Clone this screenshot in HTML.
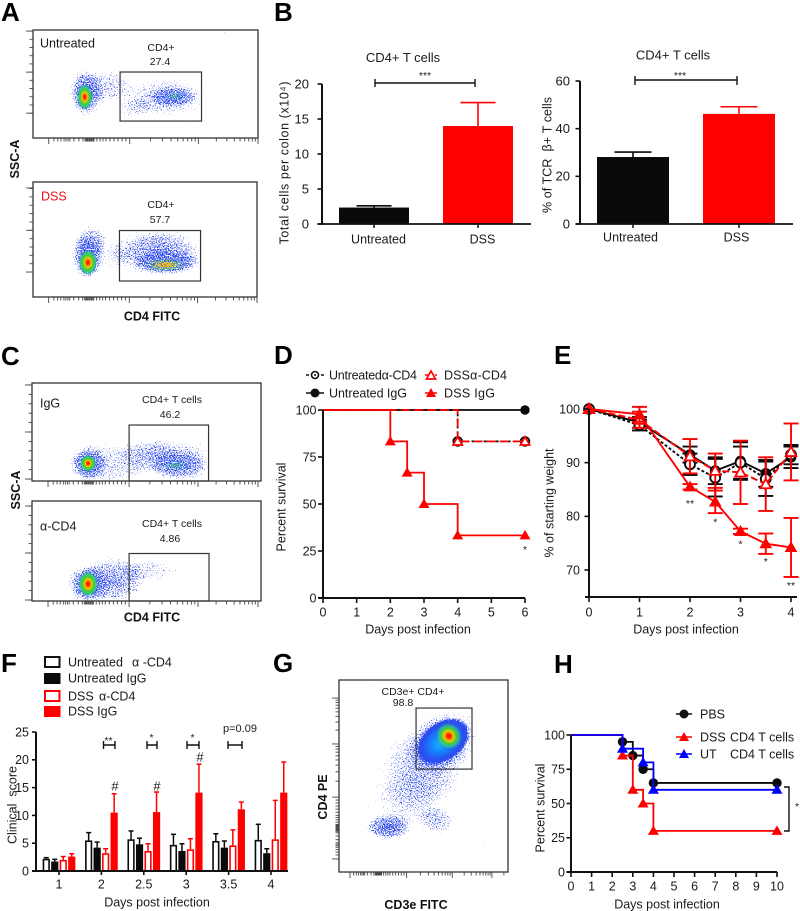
<!DOCTYPE html>
<html lang="en">
<head>
<meta charset="utf-8">
<title>CD4 T cell figure</title>
<style>
html,body{margin:0;padding:0;background:#fff;width:800px;height:911px;overflow:hidden}
svg{display:block;filter:blur(0.3px)}
text{font-family:"Liberation Sans",sans-serif;fill:#1a1a1a}
.letter{font-size:26px;font-weight:bold;fill:#000}
.bold{font-weight:bold;font-size:12.5px;fill:#111}
.t{font-size:12.5px}
.s{font-size:10.5px}
</style>
</head>
<body>
<svg id="figure" xmlns="http://www.w3.org/2000/svg" width="800" height="911" viewBox="0 0 800 911">
<defs>
<filter id="speckle" filterUnits="userSpaceOnUse" x="0" y="0" width="800" height="911" color-interpolation-filters="sRGB">
<feTurbulence type="fractalNoise" baseFrequency="0.85" numOctaves="2" seed="7" result="n"/>
<feColorMatrix in="n" type="matrix" values="0 0 0 0 0  0 0 0 0 0  0 0 0 0 0  1 0 0 0 0" result="na"/>
<feComposite in="na" in2="SourceAlpha" operator="arithmetic" k1="0" k2="1" k3="0.45" k4="-0.85" result="mix"/>
<feComponentTransfer in="mix" result="dots"><feFuncA type="linear" slope="14" intercept="0"/></feComponentTransfer>
<feFlood flood-color="#2f4bec" result="c"/>
<feComposite in="c" in2="dots" operator="in"/>
</filter>
<filter id="grain" filterUnits="userSpaceOnUse" x="0" y="0" width="800" height="911" color-interpolation-filters="sRGB">
<feTurbulence type="fractalNoise" baseFrequency="0.8" numOctaves="2" seed="11" result="n"/>
<feColorMatrix in="n" type="matrix" values="0 0 0 0 0  0 0 0 0 0  0 0 0 0 0  1 0 0 0 0" result="na"/>
<feComposite in="na" in2="SourceAlpha" operator="arithmetic" k1="0" k2="1" k3="1" k4="-0.8" result="m"/>
<feComponentTransfer in="m" result="mask"><feFuncA type="linear" slope="10" intercept="0"/></feComponentTransfer>
<feComponentTransfer in="SourceGraphic" result="boosted"><feFuncA type="linear" slope="2.5" intercept="0"/></feComponentTransfer>
<feComposite in="boosted" in2="mask" operator="in"/>
</filter>
<radialGradient id="density"><stop offset="0" stop-color="#000" stop-opacity="1"/><stop offset="0.6" stop-color="#000" stop-opacity="0.75"/><stop offset="1" stop-color="#000" stop-opacity="0"/></radialGradient>
<radialGradient id="hot"><stop offset="0" stop-color="#f00"/><stop offset="0.18" stop-color="#f40"/><stop offset="0.32" stop-color="#ec0"/><stop offset="0.52" stop-color="#4c3"/><stop offset="0.72" stop-color="#3c8" stop-opacity="0.6"/><stop offset="1" stop-color="#22e" stop-opacity="0"/></radialGradient>
<radialGradient id="warm"><stop offset="0" stop-color="#f90" stop-opacity="0.5"/><stop offset="0.3" stop-color="#dd2" stop-opacity="0.38"/><stop offset="0.6" stop-color="#4c4" stop-opacity="0.3"/><stop offset="1" stop-color="#2a8" stop-opacity="0"/></radialGradient>
<radialGradient id="weak"><stop offset="0" stop-color="#5c5" stop-opacity="0.4"/><stop offset="0.55" stop-color="#2bc" stop-opacity="0.22"/><stop offset="1" stop-color="#22e" stop-opacity="0"/></radialGradient>
<radialGradient id="body"><stop offset="0" stop-color="#2cf"/><stop offset="0.4" stop-color="#18f"/><stop offset="0.72" stop-color="#2a50f0"/><stop offset="0.88" stop-color="#2a4cee" stop-opacity="0.4"/><stop offset="1" stop-color="#23e" stop-opacity="0"/></radialGradient>
</defs>

<rect width="800" height="911" fill="#fff"/>

<text class="letter" x="1" y="21">A</text>
<text class="letter" x="274" y="21">B</text>
<text class="letter" x="1" y="365">C</text>
<text class="letter" x="274" y="364">D</text>
<text class="letter" x="554" y="364">E</text>
<text class="letter" x="1" y="672">F</text>
<text class="letter" x="273" y="672">G</text>
<text class="letter" x="554" y="673">H</text>

<g id="flow-layer"></g>

<!-- Panel A text -->
<text class="t" x="40" y="47.5">Untreated</text>
<text class="s" x="161" y="51" text-anchor="middle">CD4+</text>
<text class="s" x="160" y="65" text-anchor="middle">27.4</text>
<text class="t" x="41" y="200.5" style="fill:#f01010">DSS</text>
<text class="s" x="161" y="208" text-anchor="middle">CD4+</text>
<text class="s" x="160" y="223" text-anchor="middle">57.7</text>
<text class="bold" transform="translate(19,159) rotate(-90)" text-anchor="middle">SSC-A</text>
<text class="bold" x="152" y="320.5" text-anchor="middle">CD4 FITC</text>

<!-- Panel B text -->
<text class="t" x="403" y="62" text-anchor="middle" style="font-size:13px">CD4+ T cells</text>
<text class="t" x="673" y="59.5" text-anchor="middle" style="font-size:13px">CD4+ T cells</text>
<text class="t" transform="translate(288.5,163) rotate(-90)" text-anchor="middle" textLength="163">Total cells per colon (x10⁴)</text>
<text class="t" transform="translate(551.5,155) rotate(-90)" text-anchor="middle" textLength="116">% of TCR&#160; β+ T cells</text>
<g stroke="#111" stroke-width="1.4" fill="none"><path d="M375 79V87M375 83H475M475 79V87"/></g>
<text class="s" x="425" y="79" text-anchor="middle">***</text>
<g stroke="#111" stroke-width="1.4" fill="none"><path d="M635 76V85M635 80H737M737 76V85"/></g>
<text class="s" x="680" y="79" text-anchor="middle">***</text>

<!-- Panel C text -->
<text class="t" x="40" y="407.5">IgG</text>
<text class="s" x="172" y="403" text-anchor="middle">CD4+ T cells</text>
<text class="s" x="170" y="418" text-anchor="middle">46.2</text>
<text class="t" x="40" y="530.5">α-CD4</text>
<text class="s" x="172" y="527" text-anchor="middle">CD4+ T cells</text>
<text class="s" x="170" y="542" text-anchor="middle">4.86</text>
<text class="bold" transform="translate(20,490) rotate(-90)" text-anchor="middle">SSC-A</text>
<text class="bold" x="152" y="621.5" text-anchor="middle">CD4 FITC</text>

<!-- Panel D text and legend -->
<g>
<g><line x1="306" y1="375" x2="324" y2="375" stroke="#111" stroke-width="1.5" stroke-dasharray="3 2"/><circle cx="315" cy="375" r="3.5" fill="#fff" stroke="#111" stroke-width="1.6"/><circle cx="315" cy="375" r="1" fill="#111"/><text class="t" x="329" y="379.3" textLength="88">Untreatedα-CD4</text></g>
<g><line x1="425" y1="375" x2="437" y2="375" stroke="#f00" stroke-width="1.5" stroke-dasharray="3 2"/><path d="M431 371L435.5 379H426.5Z" fill="#fff" stroke="#f00" stroke-width="1.7"/><text class="t" x="444" y="379.3" textLength="63">DSSα-CD4</text></g>
<g><line x1="306" y1="393" x2="324" y2="393" stroke="#111" stroke-width="1.5"/><circle cx="315" cy="393" r="4.5" fill="#111"/><text class="t" x="329" y="397.3" textLength="78">Untreated IgG</text></g>
<g><line x1="425" y1="393" x2="437" y2="393" stroke="#f00" stroke-width="1.5"/><path d="M431 388L436 397H426Z" fill="#f00"/><text class="t" x="444" y="397.3" textLength="51">DSS IgG</text></g>
</g>
<text class="t" x="418" y="633.5" text-anchor="middle">Days post infection</text>
<text class="t" transform="translate(285.5,507) rotate(-90)" text-anchor="middle">Percent survival</text>
<text class="s" x="525" y="553" text-anchor="middle">*</text>

<!-- Panel E text -->
<text class="t" x="686" y="633.5" text-anchor="middle">Days post infection</text>
<text class="t" transform="translate(553.5,503) rotate(-90)" text-anchor="middle">% of starting weight</text>

<!-- Panel F text and legend -->
<g>
<g><rect x="45" y="657" width="14.5" height="10" fill="#fff" stroke="#111" stroke-width="2"/><text class="t" x="68" y="666.5">Untreated<tspan x="132">α -CD4</tspan></text></g>
<g><rect x="44" y="673" width="16.5" height="11" fill="#0a0a0a"/><text class="t" x="68" y="682.5">Untreated IgG</text></g>
<g><rect x="45" y="691" width="14.5" height="10" fill="#fff" stroke="#f00" stroke-width="2"/><text class="t" x="68" y="700.5">DSS<tspan x="99">α-CD4</tspan></text></g>
<g><rect x="44" y="706" width="16.5" height="11" fill="#f00"/><text class="t" x="68" y="715.5">DSS IgG</text></g>
</g>
<text class="t" x="157" y="906.5" text-anchor="middle">Days post infection</text>
<text class="t" transform="translate(16.5,805) rotate(-90)" text-anchor="middle" textLength="78">Clinical&#160; score</text>
<g stroke="#111" stroke-width="1.4" fill="none">
<path d="M103.500 741V749M103.500 745H115M115 741V749"/>
<path d="M147 741V749M147 745H157M157 741V749"/>
<path d="M187 741V749M187 745H199M199 741V749"/>
<path d="M228 741V749M228 745H242M242 741V749"/>
</g>
<text class="s" x="108.500" y="744" text-anchor="middle">**</text>
<text class="s" x="151.500" y="741" text-anchor="middle">*</text>
<text class="s" x="192.500" y="741" text-anchor="middle">*</text>
<text class="s" x="240" y="732" text-anchor="middle" style="font-size:11px">p=0.09</text>
<text class="t" x="115" y="790.500" text-anchor="middle" style="font-size:13px">#</text>
<text class="t" x="157" y="790.500" text-anchor="middle" style="font-size:13px">#</text>
<text class="t" x="200" y="761.500" text-anchor="middle" style="font-size:13px">#</text>

<!-- Panel G text -->
<text class="s" x="413" y="695" text-anchor="middle">CD3e+ CD4+</text>
<text class="s" x="403" y="706" text-anchor="middle">98.8</text>
<text class="bold" transform="translate(327,797) rotate(-90)" text-anchor="middle">CD4 PE</text>
<text class="bold" x="416" y="909" text-anchor="middle">CD3e FITC</text>

<!-- Panel H text and legend -->
<g>
<g><line x1="676" y1="714" x2="692" y2="714" stroke="#111" stroke-width="1.5"/><circle cx="684" cy="714" r="4.5" fill="#111"/><text class="t" x="700" y="718.500">PBS</text></g>
<g><line x1="676" y1="737" x2="692" y2="737" stroke="#f00" stroke-width="1.5"/><path d="M684 732L689 741H679Z" fill="#f00"/><text class="t" x="700" y="741.500">DSS<tspan x="730">CD4 T cells</tspan></text></g>
<g><line x1="676" y1="754" x2="692" y2="754" stroke="#00f" stroke-width="1.5"/><path d="M684 749L689 758H679Z" fill="#00f"/><text class="t" x="700" y="758.500">UT<tspan x="730">CD4 T cells</tspan></text></g>
</g>
<text class="t" x="667" y="908.500" text-anchor="middle">Days post infection</text>
<text class="t" transform="translate(544.5,808) rotate(-90)" text-anchor="middle">Percent survival</text>
<path d="M784 787H789V831H784" fill="none" stroke="#111" stroke-width="1.4"/>
<text class="s" x="797" y="810" text-anchor="middle">*</text>

<g id="charts"></g>
</svg>

<script>
/* ---------- Chart data ---------- */
const bCategories = ['Untreated', 'DSS'];
const bLeftValues = [2.35, 14];
const bLeftErrors = [0.25, 3.35];
const bLeftTicks = [0, 5, 10, 15, 20];
const bRightValues = [28.1, 46.2];
const bRightErrors = [2.1, 3];
const bRightTicks = [0, 20, 40, 60];

const dDayTicks = [0, 1, 2, 3, 4, 5, 6];
const dSurvivalTicks = [0, 25, 50, 75, 100];
const dUntreatedIgGDays = [0, 6];
const dUntreatedIgGSurvival = [100, 100];
const dUntreatedAntiDays = [0, 4, 6];
const dUntreatedAntiSurvival = [100, 83.3, 83.3];
const dDssAntiDays = [0, 4, 6];
const dDssAntiSurvival = [100, 83.3, 83.3];
const dDssIgGDays = [0, 2, 2.5, 3, 4, 6];
const dDssIgGSurvival = [100, 83.3, 66.7, 50, 33.3, 33.3];

const eDayTicks = [0, 1, 2, 3, 4];
const eWeightTicks = [70, 80, 90, 100];
const eDays = [0, 1, 2, 2.5, 3, 3.5, 4];
const eUntreatedIgG = [100, 97.5, 91.5, 88.5, 90.3, 88, 91];
const eUntreatedIgGError = [0, 1, 1.5, 2.5, 3.5, 2.5, 2];
const eUntreatedAnti = [100, 97, 89.7, 87.2, 90, 87, 91.5];
const eUntreatedAntiError = [0, 1, 2, 3.5, 3, 3.2, 1.8];
const eDssAnti = [100, 98, 91.2, 88.5, 88.2, 86, 92];
const eDssAntiError = [0, 1.5, 3.2, 3.2, 5.9, 5, 5.3];
const eDssIgG = [100, 99, 85.5, 82.7, 77.2, 74.9, 74.2];
const eDssIgGError = [0, 1.4, 0.5, 2.1, 0.5, 1.9, 5.5];
const eStarLabels = ['', '', '**', '*', '*', '*', '**'];
const eStarWeights = [0, 0, 82.5, 79, 74.9, 71.7, 67.2];

const fGroups = ['1', '2', '2.5', '3', '3.5', '4'];
const fTicks = [0, 5, 10, 15, 20, 25];
const fUntreatedAnti = [2.2, 5.5, 5.7, 4.7, 5.4, 5.6];
const fUntreatedAntiTop = [2.4, 6.9, 7.2, 6.6, 6.7, 8.4];
const fUntreatedIgG = [1.7, 4.2, 4.8, 3.6, 4.2, 3.2];
const fUntreatedIgGTop = [2.1, 5.2, 5.9, 4.9, 5.4, 4.0];
const fDssAnti = [2.0, 3.2, 3.6, 3.9, 4.6, 5.7];
const fDssAntiTop = [2.6, 4.0, 4.9, 5.8, 7.4, 12.7];
const fDssIgG = [2.6, 10.5, 10.6, 14.1, 11.1, 14.1];
const fDssIgGTop = [3.1, 13.9, 14.2, 19.2, 12.4, 19.6];

const hDayTicks = [0, 1, 2, 3, 4, 5, 6, 7, 8, 9, 10];
const hSurvivalTicks = [0, 25, 50, 75, 100];
const hPbsDays = [0, 2.5, 3, 3.5, 4, 10];
const hPbsSurvival = [100, 95, 85, 75, 65, 65];
const hDssDays = [0, 2.5, 3, 3.5, 4, 10];
const hDssSurvival = [100, 85, 60, 50, 30, 30];
const hUtDays = [0, 2.5, 3.5, 4, 10];
const hUtSurvival = [100, 90, 80, 60, 60];

/* ---------- Flow cytometry data: percent of each plot's axes ---------- */
/* populations: x, y, spread x, spread y, density, tilt */
const flowAUntreatedPopulations = [[23.5,42,6.5,19,1,0],[33,48,10,13,0.66,0],[58.7,38,16,16,0.68,0],[62,38,9,8,0.95,0],[45,28,7,8,0.5,0]];
const flowAUntreatedCores = [[23,38,3.8,13,'hot',0],[63,39,7,6,'weak',0]];
const flowAUntreatedGate = [38.7,74.9,15.7,61.1];
const flowADssPopulations = [[24.5,34,6.5,16,1,0],[26,47,6.5,12,0.85,0],[55.8,39,17,17,0.9,0],[60,30,13,9,1,0],[37,36,5,12,0.48,0]];
const flowADssCores = [[24.5,30,4.5,12,'hot',0],[59,28,12,7.5,'warm',0]];
const flowADssGate = [38.6,74.8,13.9,57.8];
const flowCIgGPopulations = [[24.5,18,7,16,1,0],[36,18,15,18,0.62,0],[64,16,12,13,1,0],[51,27,11,15,0.55,0],[62,30,14,10,0.6,0]];
const flowCIgGCores = [[24.5,18,3.9,9.5,'hot',0],[62.5,16,10,8,'weak',0]];
const flowCIgGGate = [42.4,77.1,0,57.1];
const flowCAntiPopulations = [[24.5,17,8,17,1,0],[36,21,12,20,0.85,0],[52,31,11,10,0.55,0]];
const flowCAntiCores = [[24.5,17,4.8,14,'hot',0]];
const flowCAntiGate = [42.4,77.3,0,47.5];
const flowGPopulations = [[54,58,21,18,0.5,0],[39,37,18,13,0.46,0],[46,50,20,18,0.48,0],[29,23.4,12,5.8,1,0],[58,27,9,6,0.72,0],[61.5,68,20,13,0.85,-35]];
const flowGCores = [[61.500,68,18.500,11,'body',-35],[65,70.800,8.500,8,'hot',-35]];
const flowGGate = [45.6,78.7,53.6,85.4];
const flowLinearTicks = [9.3,11,12.4,13.8,14.7,15.6,16.4,18.2,20.4,22.2,23.1,23.6,24,24.4,24.9,25.3,25.8,26.2,26.7,27.1,28.4,29.8,31.1,32.4,34.2,36,37.8,39.6,41.3];
const flowLogMultiples = [2,3,4,5,6,7,8,9];
const flowXMajorsA = [7,43,73.5,100];
const flowXMajorsC = [7,42.4,72.5,98.7];
const flowXMajorsG = [6.5,40,67,90.5];
const flowYMajorsAUntreated = [23,61,99];
const flowYMajorsADss = [21.7,58,94.8];
const flowYMajorsCIgG = [2,50,98];
const flowYMajorsCAnti = [1,48,95];
const flowYMajorsG = [6.8,39,66.7,90.6];

/* ---------- Helpers ---------- */
const SVG_NS = 'http://www.w3.org/2000/svg';
const RED = '#ff0000';
const BLACK = '#0a0a0a';
const BLUE = '#0000ff';
const chartsRoot = document.getElementById('charts');
const flowRoot = document.getElementById('flow-layer');

function mk(tag, attrs, parent) {
  const e = document.createElementNS(SVG_NS, tag);
  for (const k in attrs) e.setAttribute(k, attrs[k]);
  parent.appendChild(e);
  return e;
}
function linear(d0, d1, r0, r1) {
  return function (v) { return r0 + (v - d0) / (d1 - d0) * (r1 - r0); };
}
function seg(parent, x1, y1, x2, y2, color, width) {
  return mk('line', { x1: x1, y1: y1, x2: x2, y2: y2, stroke: color, 'stroke-width': width }, parent);
}
function txt(parent, x, y, str, anchor, size) {
  const t = mk('text', { x: x, y: y, 'text-anchor': anchor, 'font-size': size }, parent);
  t.textContent = str;
  return t;
}
function newGroup(parent, name) {
  const g = mk('g', {}, parent);
  
  
  return g;
}
function drawYAxis(g, xPos, y, ticks, lineTop, lineBottom, tickLen, labelGap, fontSize) {
  const axis = seg(g, xPos, lineTop, xPos, lineBottom, '#111', 2);
  
  
  ticks.forEach(function (v) {
    const tick = seg(g, xPos - tickLen, y(v), xPos, y(v), '#111', 1.6);
    
    
    const lab = txt(g, xPos - labelGap, y(v) + 4.4, String(v), 'end', fontSize || 12.5);
    
    
  });
}
function drawXAxis(g, yPos, x, ticks, lineLeft, lineRight, tickLen, labelY, labels) {
  const axis = seg(g, lineLeft, yPos, lineRight, yPos, '#111', 2);
  
  
  ticks.forEach(function (v, i) {
    const tick = seg(g, x(v), yPos, x(v), yPos + tickLen, '#111', 1.6);
    
    
    const lab = txt(g, x(v), labelY, labels ? labels[i] : String(v), 'middle', 12.5);
    
    
  });
}
function marker(g, kind, px, py, color, k) {
  let m;
  if (kind === 'dot') {
    m = mk('circle', { cx: px, cy: py, r: 4.7 * k, fill: color }, g);
  } else if (kind === 'ring') {
    m = mk('circle', { cx: px, cy: py, r: 4.3 * k, fill: '#fff', stroke: color, 'stroke-width': 1.9 }, g);
  } else if (kind === 'tri') {
    m = mk('path', { d: 'M' + px + ' ' + (py - 5.5 * k) + 'L' + (px + 5.5 * k) + ' ' + (py + 4 * k) + 'H' + (px - 5.5 * k) + 'Z', fill: color }, g);
  } else {
    m = mk('path', { d: 'M' + px + ' ' + (py - 4.6 * k) + 'L' + (px + 4.6 * k) + ' ' + (py + 3.6 * k) + 'H' + (px - 4.6 * k) + 'Z', fill: '#fff', stroke: color, 'stroke-width': 1.8 }, g);
  }
  
  
  return m;
}
function drawSurvival(parent, name, days, survival, x, y, color, dash, kind) {
  const g = newGroup(parent, name);
  let d = 'M' + x(days[0]) + ' ' + y(survival[0]);
  for (let i = 1; i < days.length; i++) {
    d += 'H' + x(days[i]) + 'V' + y(survival[i]);
  }
  const p = mk('path', { d: d, fill: 'none', stroke: color, 'stroke-width': 1.8, 'stroke-dasharray': dash }, g);
  
  
  for (let i = 1; i < days.length; i++) {
    marker(g, kind, x(days[i]), y(survival[i]), color, 1);
  }
}
function drawWeight(parent, name, days, values, errors, x, y, color, dash, kind) {
  const g = newGroup(parent, name);
  errors.forEach(function (er, i) {
    if (er === 0) return;
    const px = x(days[i]);
    const bar = seg(g, px, y(values[i] - er), px, y(values[i] + er), color, 1.9);
    
    
    const capHigh = seg(g, px - 7.5, y(values[i] + er), px + 7.5, y(values[i] + er), color, 1.9);
    
    
    const capLow = seg(g, px - 7.5, y(values[i] - er), px + 7.5, y(values[i] - er), color, 1.9);
    
    
  });
  const pts = values.map(function (v, i) { return x(days[i]) + ',' + y(v); }).join(' ');
  const line = mk('polyline', { points: pts, fill: 'none', stroke: color, 'stroke-width': 1.9, 'stroke-dasharray': dash }, g);
  
  
  values.forEach(function (v, i) {
    marker(g, kind, x(days[i]), y(v), color, 1.15);
  });
}

/* ---------- Panel B ---------- */
function drawSimpleBars(name, values, errors, ticks, yMax, axisX, axisRight, axisTopY, centers, barW, capW, labelOffset, labelY, tickGap) {
  const g = newGroup(chartsRoot, name);
  const y = linear(0, yMax, 224, axisTopY);
  const colors = [BLACK, RED];
  values.forEach(function (v, i) {
    const ex = seg(g, centers[i], y(v), centers[i], y(v + errors[i]), colors[i], 1.6);
    
    
    const cap = seg(g, centers[i] - capW / 2, y(v + errors[i]), centers[i] + capW / 2, y(v + errors[i]), colors[i], 1.6);
    
    
    const bar = mk('rect', { x: centers[i] - barW / 2, y: y(v), width: barW, height: 224 - y(v), fill: colors[i] }, g);
    
    
    const tick = seg(g, centers[i], 224, centers[i], 228, '#111', 1.5);
    
    
    const lab = txt(g, centers[i] + labelOffset, labelY, bCategories[i], 'middle', 12.5);
    
    
  });
  drawYAxis(g, axisX, y, ticks, axisTopY, 224, 4.5, tickGap, 13);
  const xAxis = seg(g, axisX - 4.5, 224, axisRight, 224, '#111', 1.8);
  
  
}
drawSimpleBars('chart-b-left', bLeftValues, bLeftErrors, bLeftTicks, 20, 322, 531, 84, [374, 478], 70, 35, 4.5, 243.5, 13);
drawSimpleBars('chart-b-right', bRightValues, bRightErrors, bRightTicks, 60, 580, 793, 81, [633, 739], 72, 37, -2.5, 241.5, 10);

/* ---------- Panel D ---------- */
(function () {
  const g = newGroup(chartsRoot, 'chart-d');
  const x = linear(0, 6, 323, 525);
  const y = linear(0, 100, 598, 410);
  drawSurvival(g, 'series-untreated-igg', dUntreatedIgGDays, dUntreatedIgGSurvival, x, y, BLACK, 'none', 'dot');
  drawSurvival(g, 'series-untreated-anti-cd4', dUntreatedAntiDays, dUntreatedAntiSurvival, x, y, BLACK, '3 3', 'ring');
  drawSurvival(g, 'series-dss-anti-cd4', dDssAntiDays, dDssAntiSurvival, x, y, RED, '9 4', 'open');
  drawSurvival(g, 'series-dss-igg', dDssIgGDays, dDssIgGSurvival, x, y, RED, 'none', 'tri');
  drawYAxis(g, 323, y, dSurvivalTicks, 410, 598, 5, 6.5);
  drawXAxis(g, 598, x, dDayTicks, 318, 525, 5, 616.5);
})();

/* ---------- Panel E ---------- */
(function () {
  const g = newGroup(chartsRoot, 'chart-e');
  const x = linear(0, 4, 589, 791);
  const y = linear(70, 100, 570, 409);
  drawWeight(g, 'series-untreated-igg', eDays, eUntreatedIgG, eUntreatedIgGError, x, y, BLACK, 'none', 'dot');
  drawWeight(g, 'series-untreated-anti-cd4', eDays, eUntreatedAnti, eUntreatedAntiError, x, y, BLACK, '3 2', 'ring');
  drawWeight(g, 'series-dss-anti-cd4', eDays, eDssAnti, eDssAntiError, x, y, RED, '7 3', 'open');
  drawWeight(g, 'series-dss-igg', eDays, eDssIgG, eDssIgGError, x, y, RED, 'none', 'tri');
  drawYAxis(g, 589, y, eWeightTicks, 409, 597, 4.5, 9);
  drawXAxis(g, 597, x, eDayTicks, 585, 797, 5, 616.5);
  eStarLabels.forEach(function (s, i) {
    if (!s) return;
    const star = txt(g, x(eDays[i]), y(eStarWeights[i]) + 4, s, 'middle', 10.5);
    
    
  });
})();

/* ---------- Panel F ---------- */
(function () {
  const g = newGroup(chartsRoot, 'chart-f');
  const y = linear(0, 25, 871, 732);
  const groupX = function (i) { return 59 + 42.4 * i; };
  const offsets = [-12.75, -4.25, 4.25, 12.75];
  const seriesValues = [fUntreatedAnti, fUntreatedIgG, fDssAnti, fDssIgG];
  const seriesTops = [fUntreatedAntiTop, fUntreatedIgGTop, fDssAntiTop, fDssIgGTop];
  const seriesColors = [BLACK, BLACK, RED, RED];
  const seriesOpen = [true, false, true, false];
  seriesValues.forEach(function (vals, s) {
    vals.forEach(function (v, i) {
      const cx = groupX(i) + offsets[s];
      const ex = seg(g, cx, y(v), cx, y(seriesTops[s][i]), seriesColors[s], 1.5);
      
      
      const cap = seg(g, cx - 2.5, y(seriesTops[s][i]), cx + 2.5, y(seriesTops[s][i]), seriesColors[s], 1.5);
      
      
      const bar = seriesOpen[s]
        ? mk('rect', { x: cx - 2.8, y: y(v) + 0.8, width: 5.6, height: 871 - y(v) - 0.8, fill: '#fff', stroke: seriesColors[s], 'stroke-width': 1.6 }, g)
        : mk('rect', { x: cx - 3.6, y: y(v), width: 7.2, height: 871 - y(v), fill: seriesColors[s] }, g);
      
      
    });
  });
  drawYAxis(g, 36, y, fTicks, 732, 871, 4, 7);
  const indices = fGroups.map(function (_, i) { return i; });
  drawXAxis(g, 871, groupX, indices, 32, 288, 4, 888.5, fGroups);
})();

/* ---------- Panel H ---------- */
(function () {
  const g = newGroup(chartsRoot, 'chart-h');
  const x = linear(0, 10, 571, 777);
  const y = linear(0, 100, 872, 735);
  drawSurvival(g, 'series-pbs', hPbsDays, hPbsSurvival, x, y, BLACK, 'none', 'dot');
  drawSurvival(g, 'series-dss-cd4-t-cells', hDssDays, hDssSurvival, x, y, RED, 'none', 'tri');
  drawSurvival(g, 'series-ut-cd4-t-cells', hUtDays, hUtSurvival, x, y, BLUE, 'none', 'tri');
  drawYAxis(g, 571, y, hSurvivalTicks, 735, 872, 4.5, 6);
  drawXAxis(g, 872, x, hDayTicks, 567, 777, 5, 890.5);
})();

/* ---------- Flow plots ---------- */
let flowClipCount = 0;
function drawFlowPlot(name, left, top, w, h, populations, cores, gate, xMajors, yMajors, yLogStyle) {
  const g = newGroup(flowRoot, name);
  const px = linear(0, 100, left, left + w);
  const py = linear(0, 100, top + h, top);
  const clipId = 'flow-clip-' + (flowClipCount++);
  const clip = mk('clipPath', { id: clipId }, g);
  mk('rect', { x: left, y: top, width: w, height: h }, clip);
  const clipped = mk('g', { 'clip-path': 'url(#' + clipId + ')' }, g);
  const dots = mk('g', { filter: 'url(#speckle)' }, clipped);
  
  
  populations.forEach(function (c) {
    const cx = px(c[0]);
    const cy = py(c[1]);
    const e = mk('ellipse', { cx: cx, cy: cy, rx: c[2] * 1.3 / 100 * w, ry: c[3] * 1.3 / 100 * h, fill: 'url(#density)', opacity: c[4], transform: 'rotate(' + c[5] + ' ' + cx + ' ' + cy + ')' }, dots);
    
    
  });
  const coreLayer = mk('g', { filter: 'url(#grain)' }, clipped);
  
  
  cores.forEach(function (c) {
    const cx = px(c[0]);
    const cy = py(c[1]);
    const e = mk('ellipse', { cx: cx, cy: cy, rx: c[2] / 100 * w, ry: c[3] / 100 * h, fill: 'url(#' + c[4] + ')', transform: 'rotate(' + c[5] + ' ' + cx + ' ' + cy + ')' }, coreLayer);
    
    
  });
  const box = mk('rect', { x: left, y: top, width: w, height: h, fill: 'none', stroke: '#333', 'stroke-width': 1.3 }, g);
  
  
  const gateRect = mk('rect', { x: px(gate[0]), y: py(gate[3]), width: px(gate[1]) - px(gate[0]), height: py(gate[2]) - py(gate[3]), fill: 'none', stroke: '#333', 'stroke-width': 1.2 }, g);
  
  

  /* x ticks */
  const xTick = function (pct, len) {
    const t = seg(g, px(pct), top + h, px(pct), top + h + len, '#444', 0.9);
    
    
  };
  xMajors.forEach(function (m) { xTick(m, 6); });
  flowLinearTicks.forEach(function (p) {
    xTick(xMajors[0] + (p - flowXMajorsA[0]) / (flowXMajorsA[1] - flowXMajorsA[0]) * (xMajors[1] - xMajors[0]), 3.5);
  });
  flowLogMultiples.forEach(function (k) {
    const a = Math.log10(k);
    xTick(xMajors[1] + a * (xMajors[2] - xMajors[1]), 3.5);
    const p = xMajors[2] + a * (xMajors[3] - xMajors[2]);
    xTick(p, 3.5);
    const q = xMajors[3] + a * (xMajors[3] - xMajors[2]);
    if (q < 100) xTick(q, 3.5);
  });

  /* y ticks */
  const yTick = function (pct, len) {
    if (pct < 0 || pct > 100) return;
    const t = seg(g, left - len, py(pct), left, py(pct), '#444', 0.9);
    
    
  };
  yMajors.forEach(function (m) { yTick(m, 7); });
  if (yLogStyle) {
    flowLinearTicks.forEach(function (p) {
      yTick(yMajors[0] + (p - flowXMajorsA[0]) / (flowXMajorsA[1] - flowXMajorsA[0]) * (yMajors[1] - yMajors[0]), 3.5);
    });
    flowLogMultiples.forEach(function (k) {
      const a = Math.log10(k);
      yTick(yMajors[1] + a * (yMajors[2] - yMajors[1]), 3.5);
      yTick(yMajors[2] + a * (yMajors[3] - yMajors[2]), 3.5);
    });
  } else {
    const step = (yMajors[1] - yMajors[0]) / 5;
    for (let p = yMajors[0]; p <= 100; p += step) {
      yTick(p, 3.5);
    }
  }
}
drawFlowPlot('flow-plot-untreated', 33, 30, 225, 108, flowAUntreatedPopulations, flowAUntreatedCores, flowAUntreatedGate, flowXMajorsA, flowYMajorsAUntreated, false);
drawFlowPlot('flow-plot-dss', 33, 182, 224, 115, flowADssPopulations, flowADssCores, flowADssGate, flowXMajorsA, flowYMajorsADss, false);
drawFlowPlot('flow-plot-igg', 32, 383, 229, 98, flowCIgGPopulations, flowCIgGCores, flowCIgGGate, flowXMajorsC, flowYMajorsCIgG, false);
drawFlowPlot('flow-plot-anti-cd4', 32, 501, 229, 100, flowCAntiPopulations, flowCAntiCores, flowCAntiGate, flowXMajorsC, flowYMajorsCAnti, false);
drawFlowPlot('flow-plot-cd3e-cd4', 339, 680, 169, 192, flowGPopulations, flowGCores, flowGGate, flowXMajorsG, flowYMajorsG, true);
</script>
</body>
</html>
